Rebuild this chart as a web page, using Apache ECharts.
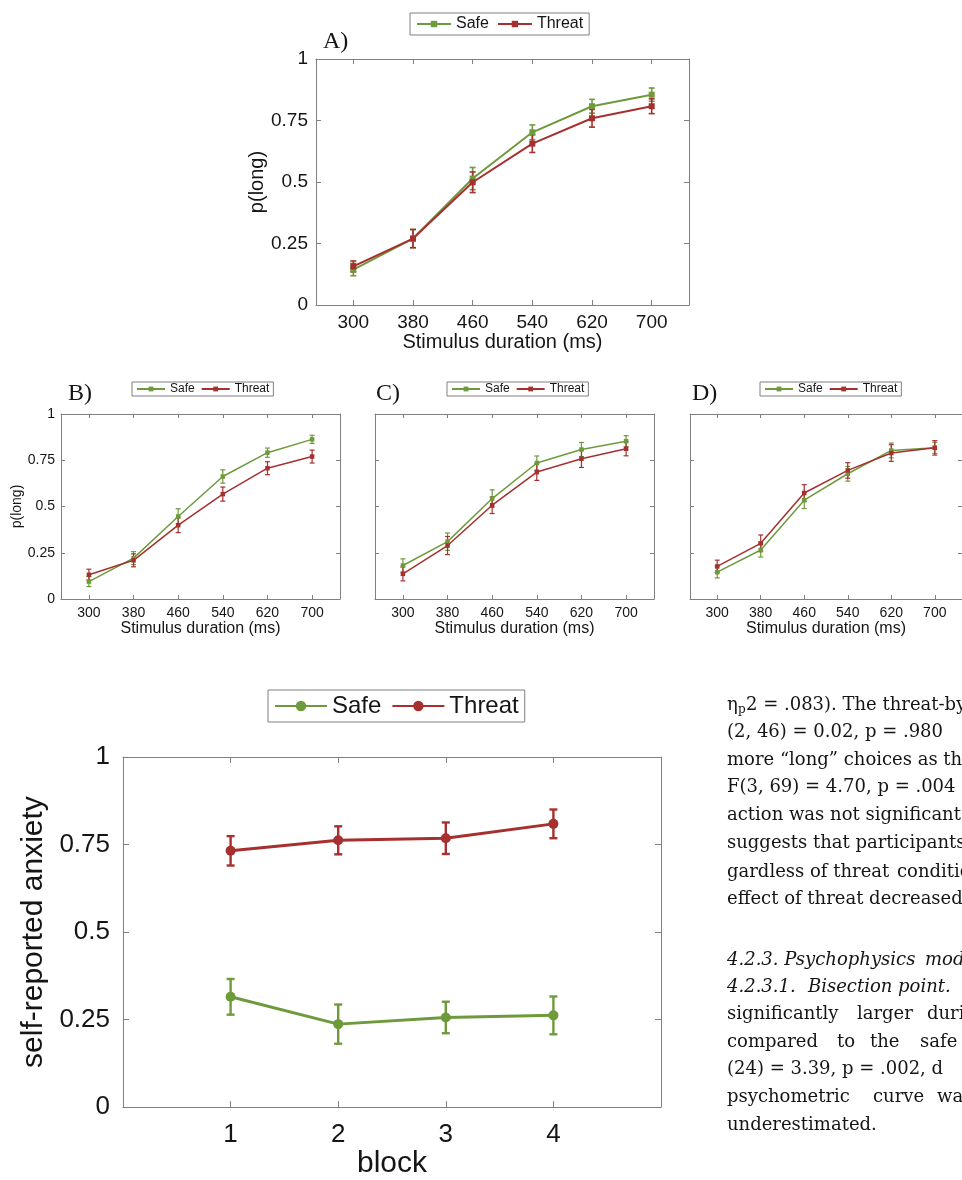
<!DOCTYPE html>
<html><head><meta charset="utf-8">
<script src="https://cdn.jsdelivr.net/npm/echarts@6/dist/echarts.min.js"></script>
<style>html,body{margin:0;padding:0;background:#fff}#c{width:962px;height:1180px}</style>
</head><body><div id="c"></div>
<script>
// ---------- data ----------
const durations = [300, 380, 460, 540, 620, 700];
const durationTicks = [300, 380, 460, 540, 620, 700];
const probTicks = [0, 0.25, 0.5, 0.75, 1];

const aSafe = [0.144, 0.270, 0.514, 0.702, 0.808, 0.855];
const aSafeErr = [0.025, 0.037, 0.045, 0.030, 0.028, 0.027];
const aThreat = [0.157, 0.270, 0.499, 0.656, 0.759, 0.808];
const aThreatErr = [0.022, 0.037, 0.042, 0.036, 0.036, 0.030];

const bSafe = [0.094, 0.221, 0.446, 0.662, 0.791, 0.863];
const bSafeErr = [0.027, 0.035, 0.042, 0.036, 0.025, 0.022];
const bThreat = [0.131, 0.209, 0.399, 0.567, 0.707, 0.770];
const bThreatErr = [0.030, 0.035, 0.040, 0.038, 0.035, 0.035];

const cSafe = [0.181, 0.310, 0.543, 0.735, 0.808, 0.853];
const cSafeErr = [0.036, 0.047, 0.047, 0.038, 0.038, 0.030];
const cThreat = [0.136, 0.289, 0.507, 0.686, 0.758, 0.812];
const cThreatErr = [0.038, 0.049, 0.045, 0.045, 0.047, 0.038];

const dSafe = [0.145, 0.265, 0.534, 0.677, 0.803, 0.817];
const dSafeErr = [0.031, 0.038, 0.045, 0.040, 0.040, 0.030];
const dThreat = [0.176, 0.301, 0.573, 0.695, 0.789, 0.817];
const dThreatErr = [0.034, 0.045, 0.045, 0.042, 0.045, 0.039];

const blocks = [1, 2, 3, 4];
const anxSafe = [0.315, 0.237, 0.256, 0.262];
const anxSafeErr = [0.051, 0.056, 0.045, 0.054];
const anxThreat = [0.732, 0.762, 0.768, 0.809];
const anxThreatErr = [0.042, 0.040, 0.045, 0.041];

const seriesNames = ['Safe', 'Threat'];

// ---------- styling ----------
const GREEN = '#6f9a3c';
const RED = '#a5302f';
const AX = '#808080';
const TXT = '#151515';
const SANS = 'Liberation Sans';
const SERIF_TXT = 'DejaVu Serif';

const panels = [
  {key:'A', grid:{left:316, top:59, width:373, height:246}, xmin:250, xmax:750, xs:durations, xt:durationTicks,
   safe:aSafe, safeE:aSafeErr, thr:aThreat, thrE:aThreatErr, lw:2, sym:'rect', ss:6, cap:3, tick:5,
   fs:19, lblMargin:8, yLabels:true, yName:'p(long)', yNameFs:20, yGap:43, xName:'Stimulus duration (ms)', xNameFs:20, xGap:26, xMargin:8,
   legend:{left:410, top:13, itemWidth:34, itemHeight:8, fs:16, pad:[3,6], gap:8}},
  {key:'B', grid:{left:61, top:414, width:279, height:185}, xmin:250, xmax:750, xs:durations, xt:durationTicks,
   safe:bSafe, safeE:bSafeErr, thr:bThreat, thrE:bThreatErr, lw:1.5, sym:'rect', ss:4.5, cap:2.5, tick:4,
   fs:14, lblMargin:6, yLabels:true, yName:'p(long)', yNameFs:14, yGap:35, xName:'Stimulus duration (ms)', xNameFs:16, xGap:20, xMargin:7,
   legend:{left:132, top:382, itemWidth:28, itemHeight:6, fs:12, pad:[1,4], gap:6}},
  {key:'C', grid:{left:375, top:414, width:279, height:185}, xmin:250, xmax:750, xs:durations, xt:durationTicks,
   safe:cSafe, safeE:cSafeErr, thr:cThreat, thrE:cThreatErr, lw:1.5, sym:'rect', ss:4.5, cap:2.5, tick:4,
   fs:14, lblMargin:6, yLabels:false, yName:'', yNameFs:14, yGap:35, xName:'Stimulus duration (ms)', xNameFs:16, xGap:20, xMargin:7,
   legend:{left:447, top:382, itemWidth:28, itemHeight:6, fs:12, pad:[1,4], gap:6}},
  {key:'D', grid:{left:690, top:414, width:279, height:185}, xmin:250, xmax:750, xs:durations, xt:durationTicks,
   safe:dSafe, safeE:dSafeErr, thr:dThreat, thrE:dThreatErr, lw:1.5, sym:'rect', ss:4.5, cap:2.5, tick:4,
   fs:14, lblMargin:6, yLabels:false, yName:'', yNameFs:14, yGap:35, xName:'Stimulus duration (ms)', xNameFs:16, xGap:20, xMargin:7,
   legend:{left:760, top:382, itemWidth:28, itemHeight:6, fs:12, pad:[1,4], gap:6}},
  {key:'E', grid:{left:123, top:757, width:538, height:357}, xmin:0, xmax:5, xs:blocks, xt:blocks,
   safe:anxSafe, safeE:anxSafeErr, thr:anxThreat, thrE:anxThreatErr, lw:3, sym:'circle', ss:10, cap:4, tick:6,
   fs:26, lblMargin:13, yLabels:true, yName:'self-reported anxiety', yNameFs:30, yGap:70, xName:'block', xNameFs:30, xGap:41, xMargin:15,
   legend:{left:268, top:690, itemWidth:52, itemHeight:13, fs:24, pad:[4,6], gap:10}}
];

function errSeries(i, xs, ys, es, color, cap, lw) {
  return {
    type: 'custom', xAxisIndex: 2*i, yAxisIndex: 2*i, silent: true, z: 3,
    data: xs.map((x, k) => [x, ys[k] - es[k], ys[k] + es[k]]),
    encode: {x: 0, y: [1, 2]},
    renderItem(params, api) {
      const lo = api.coord([api.value(0), api.value(1)]);
      const hi = api.coord([api.value(0), api.value(2)]);
      const st = {stroke: color, lineWidth: lw};
      return {type: 'group', children: [
        {type: 'line', shape: {x1: lo[0], y1: lo[1], x2: hi[0], y2: hi[1]}, style: st},
        {type: 'line', shape: {x1: lo[0]-cap, y1: lo[1], x2: lo[0]+cap, y2: lo[1]}, style: st},
        {type: 'line', shape: {x1: hi[0]-cap, y1: hi[1], x2: hi[0]+cap, y2: hi[1]}, style: st}
      ]};
    }
  };
}

const grids = [], xAxes = [], yAxes = [], series = [], legends = [];
panels.forEach((p, i) => {
  grids.push(Object.assign({containLabel: false}, p.grid));
  const axLine = {show: true, onZero: false, lineStyle: {color: AX, width: 1}};
  xAxes.push({
    type: 'value', gridIndex: i, position: 'bottom', min: p.xmin, max: p.xmax,
    axisLine: axLine, splitLine: {show: false},
    axisTick: {show: true, inside: true, length: p.tick, customValues: p.xt, lineStyle: {color: AX}},
    axisLabel: {show: true, customValues: p.xt, margin: p.xMargin, fontSize: p.fs, fontFamily: SANS, color: TXT},
    name: p.xName, nameLocation: 'middle', nameGap: p.xGap,
    nameTextStyle: {fontSize: p.xNameFs, fontFamily: SANS, color: TXT}
  });
  xAxes.push({
    type: 'value', gridIndex: i, position: 'top', min: p.xmin, max: p.xmax,
    axisLine: axLine, splitLine: {show: false},
    axisTick: {show: true, inside: true, length: p.tick, customValues: p.xt, lineStyle: {color: AX}},
    axisLabel: {show: false, customValues: p.xt}
  });
  yAxes.push({
    type: 'value', gridIndex: i, position: 'left', min: 0, max: 1, interval: 0.25,
    axisLine: axLine, splitLine: {show: false},
    axisTick: {show: true, inside: true, length: p.tick, lineStyle: {color: AX}},
    axisLabel: {show: p.yLabels, margin: p.lblMargin, fontSize: p.fs, fontFamily: SANS, color: TXT},
    name: p.yName, nameLocation: 'middle', nameGap: p.yGap,
    nameTextStyle: {fontSize: p.yNameFs, fontFamily: SANS, color: TXT}
  });
  yAxes.push({
    type: 'value', gridIndex: i, position: 'right', min: 0, max: 1, interval: 0.25,
    axisLine: axLine, splitLine: {show: false},
    axisTick: {show: true, inside: true, length: p.tick, lineStyle: {color: AX}},
    axisLabel: {show: false}
  });
  // each panel gets its own internal series ids so that its legend shows its own marker style
  const ids = seriesNames.map(n => n + '\u200b' + p.key);
  [[p.safe, p.safeE, GREEN, ids[0]], [p.thr, p.thrE, RED, ids[1]]].forEach(([ys, es, col, nm]) => {
    series.push(errSeries(i, p.xs, ys, es, col, p.cap, p.lw * 0.8));
    series.push({
      type: 'line', name: nm, xAxisIndex: 2*i, yAxisIndex: 2*i, z: 4,
      data: p.xs.map((x, k) => [x, ys[k]]),
      symbol: p.sym, symbolSize: p.ss, showSymbol: true,
      lineStyle: {color: col, width: p.lw}, itemStyle: {color: col},
      emphasis: {disabled: true}, animation: false
    });
  });
  legends.push({
    data: ids, left: p.legend.left, top: p.legend.top, orient: 'horizontal',
    formatter: n => n.split('\u200b')[0],
    selectedMode: false, borderColor: AX, borderWidth: 1, backgroundColor: '#fff',
    padding: p.legend.pad, itemGap: p.legend.gap,
    itemWidth: p.legend.itemWidth, itemHeight: p.legend.itemHeight,
    textStyle: {fontSize: p.legend.fs, fontFamily: SANS, color: TXT}
  });
});

// ---------- panel letters & side text ----------
const graphics = [];
[['A)', 323, 42], ['B)', 68, 394], ['C)', 376, 394], ['D)', 692, 394]].forEach(([t, x, y]) => {
  graphics.push({type: 'text', x: x, y: y, style: {text: t, fontSize: 24, fontFamily: 'Liberation Serif', fill: TXT, verticalAlign: 'middle', align: 'left'}});
});

const TX = 727, TFS = 18;
const mctx = document.createElement('canvas').getContext('2d');
function tw(t, italic) {
  mctx.font = (italic ? 'italic ' : '') + TFS + 'px "' + SERIF_TXT + '"';
  return mctx.measureText(t).width;
}
function word(t, x, y, italic) {
  graphics.push({type: 'text', x: x, y: y, style: {text: t, fontSize: TFS, fontFamily: SERIF_TXT, fontStyle: italic ? 'italic' : 'normal', fill: TXT, verticalAlign: 'middle', align: 'left'}});
}
// words placed at their justified positions, never overlapping
function line(words, y, italic) {
  let prevEnd = -1e9;
  const sp = tw(' ', italic);
  words.forEach(([t, x]) => {
    const xx = Math.max(x, prevEnd + sp);
    word(t, xx, y, italic);
    prevEnd = xx + tw(t, italic);
  });
}
const L = [705, 732, 760, 787, 815, 843, 872, 899];
const M = [960, 987, 1014, 1042, 1069, 1097, 1125];
word('η', TX, L[0]);
graphics.push({type: 'text', x: TX + 11, y: L[0] + 5, style: {text: 'p', fontSize: 12, fontFamily: SERIF_TXT, fill: TXT, verticalAlign: 'middle', align: 'left'}});
word('2 = .083). The threat-by-block', TX + 19, L[0]);
line([['(2, 46) = 0.02, p = .980', TX]], L[1]);
line([['more “long” choices as the', TX]], L[2]);
line([['F(3, 69) = 4.70, p = .004', TX]], L[3]);
line([['action was not significant', TX]], L[4]);
line([['suggests', TX], ['that', 800], ['participants', 842]], L[5]);
line([['gardless', TX], ['of', 800], ['threat', 828], ['condition', 897]], L[6]);
line([['effect of threat decreased', TX]], L[7]);
line([['4.2.3.', TX], ['Psychophysics', 782], ['model', 925]], M[0], true);
line([['4.2.3.1.', TX], ['Bisection', 808], ['point.', 870]], M[1], true);
line([['significantly', TX], ['larger', 857], ['during', 927]], M[2]);
line([['compared', TX], ['to', 837], ['the', 870], ['safe', 920]], M[3]);
line([['(24) = 3.39, p = .002, d', TX]], M[4]);
line([['psychometric', TX], ['curve', 873], ['was', 937]], M[5]);
line([['underestimated.', TX]], M[6]);

const chart = echarts.init(document.getElementById('c'), null, {renderer: 'canvas'});
chart.setOption({
  animation: false,
  backgroundColor: '#ffffff',
  grid: grids, xAxis: xAxes, yAxis: yAxes, series: series, legend: legends,
  graphic: graphics
});
</script></body></html>
